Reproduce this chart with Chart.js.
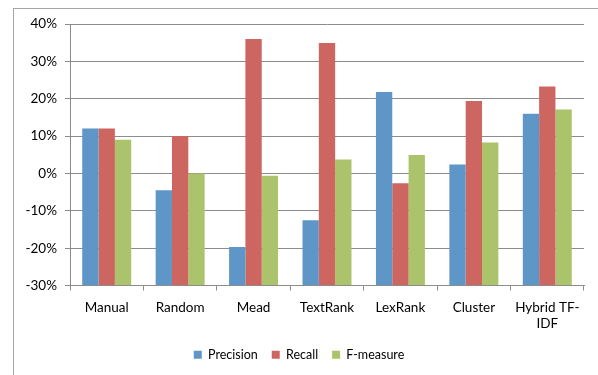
<!DOCTYPE html>
<html>
<head>
<meta charset="utf-8">
<script src="https://cdn.jsdelivr.net/npm/chart.js@4"></script>
<style>
  html, body { margin: 0; padding: 0; background: #fff; }
  #wrap { position: relative; width: 598px; height: 375px; overflow: hidden; }
  #frame { position: absolute; left: 13px; top: 8px; width: 620px; height: 400px; border: 1px solid #a6a6a6; }
  canvas { position: absolute; left: 0; top: 0; }
</style>
</head>
<body>
<div id="wrap">
  <div id="frame"></div>
  <canvas id="chart" width="598" height="375"></canvas>
</div>
<script>
const methods = ["Manual", "Random", "Mead", "TextRank", "LexRank", "Cluster", ["Hybrid TF-", "IDF"]];
const precision = [12, -4.5, -19.7, -12.5, 21.8, 2.4, 16.0];
const recall = [12, 10, 36.0, 34.9, -2.6, 19.4, 23.3];
const fMeasure = [9, 0, -0.6, 3.7, 4.9, 8.3, 17.1];
const yTicks = [-30, -20, -10, 0, 10, 20, 30, 40];

const axisFont = { family: "Lato, 'Noto Sans', sans-serif", size: 13.5 };
const legendFont = { family: "Lato, 'Noto Sans', sans-serif", size: 12.5 };
const gridColor = "#8c8c8c";

function bar(label, data, color) {
  return { label, data, backgroundColor: color, base: -30, borderWidth: 0, categoryPercentage: 0.667, barPercentage: 1.0 };
}

new Chart(document.getElementById("chart"), {
  type: "bar",
  data: {
    labels: methods,
    datasets: [
      bar("Precision", precision, "#5f96c8"),
      bar("Recall", recall, "#cd6560"),
      bar("F-measure", fMeasure, "#abc46b")
    ]
  },
  options: {
    responsive: false,
    animation: false,
    layout: { padding: { left: 14, right: 14, top: 24, bottom: 4 } },
    plugins: {
      legend: {
        position: "bottom",
        labels: { color: "#000", font: legendFont, boxWidth: 8, boxHeight: 8, padding: 14 }
      },
      tooltip: { enabled: false }
    },
    scales: {
      x: {
        afterFit: (axis) => { axis.height = 49; },
        ticks: { color: "#000", font: axisFont, padding: 9, maxRotation: 0, autoSkip: false },
        grid: { offset: true, drawOnChartArea: false, color: gridColor, tickLength: 5 },
        border: { color: gridColor }
      },
      y: {
        min: -30,
        max: 40,
        afterBuildTicks: (axis) => { axis.ticks = yTicks.map((v) => ({ value: v })); },
        afterFit: (axis) => { axis.width = 56; },
        ticks: { color: "#000", font: axisFont, padding: 8, callback: (v) => v + "%" },
        grid: { color: gridColor, tickLength: 5 },
        border: { color: gridColor }
      }
    }
  }
});
</script>
</body>
</html>
